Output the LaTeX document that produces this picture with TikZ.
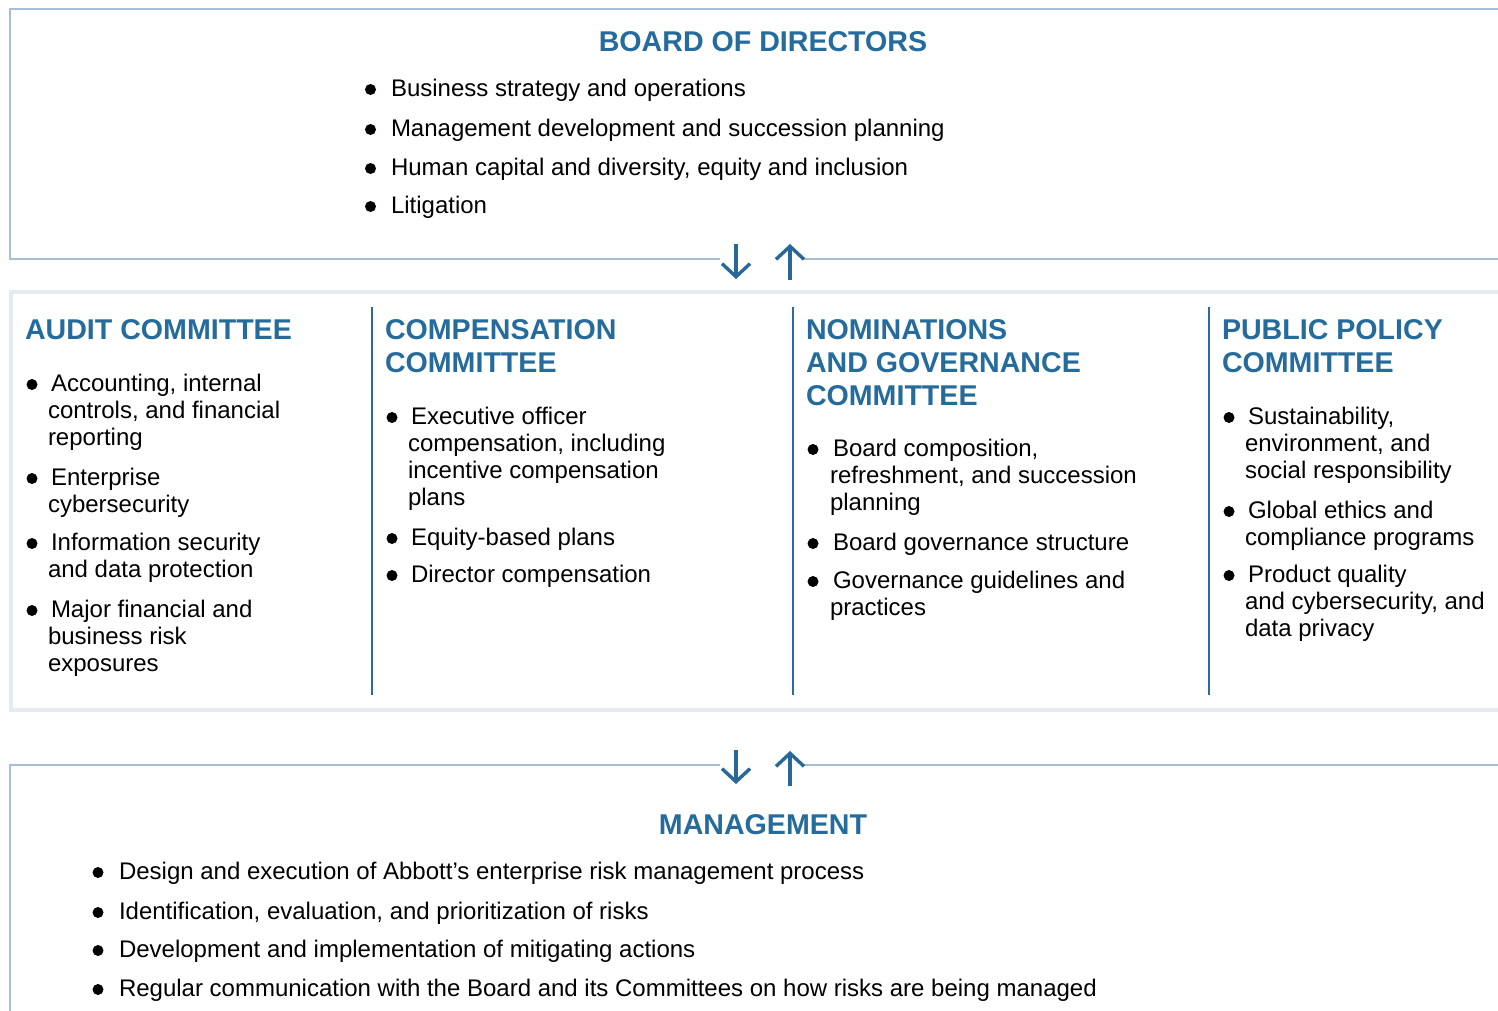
\documentclass[tikz,border=0pt]{standalone}
\usepackage{fontspec}
\setmainfont{Liberation Sans}
\usetikzlibrary{arrows.meta}
\definecolor{hd}{HTML}{256B9B}
\definecolor{sepc}{HTML}{2B6C9C}
\definecolor{fr}{HTML}{A8BDD6}
\definecolor{gb}{HTML}{E6EBF2}
\definecolor{arc}{HTML}{28679A}
\newcommand\bodyfont{\fontsize{24}{27}\selectfont}
\newcommand\headfont{\fontsize{28.6}{33}\selectfont\bfseries}
% item: name, bullet x, text x, baseline y, text
\newcommand\itm[5]{%
  \fill[black] (#2,{#4-6.5}) circle (5.5pt);
  \node[bodytxt] (#1) at (#3,#4) {\parbox[t]{1200pt}{\raggedright #5}};
}
\newcommand\hd[4]{%
  \node[headtxt] (#1) at (#2,#3) {\parbox[t]{600pt}{\raggedright #4}};
}
\begin{document}
\begin{tikzpicture}[x=1pt,y=-1pt,
  frame/.style={draw=fr, line width=2pt},
  graybox/.style={draw=gb, line width=4pt},
  sepline/.style={draw=sepc, line width=2.5pt},
  bodytxt/.style={anchor=base west, inner sep=0pt, outer sep=0pt, font=\bodyfont, text=black},
  headtxt/.style={anchor=base west, inner sep=0pt, outer sep=0pt, font=\headfont, text=hd},
  flow/.style={draw=arc, line width=3.4pt, -{Straight Barb[length=13pt,width=28pt,line width=3.4pt]}}]
\useasboundingbox (0,0) rectangle (1498,1010);
\fill[white] (0,0) rectangle (1498,1010);

% ---------- frames ----------
\draw[frame] (720,259) -- (10,259) -- (10,9) -- (1498,9);
\draw[frame] (803,259) -- (1498,259);
\draw[graybox] (1500,292) -- (11,292) -- (11,710) -- (1500,710);
\draw[sepline] (372,307) -- (372,695);
\draw[sepline] (793,307) -- (793,695);
\draw[sepline] (1209,307) -- (1209,695);
\draw[frame] (720,765) -- (10,765) -- (10,1012);
\draw[frame] (803,765) -- (1498,765);

% ---------- arrows ----------
\coordinate (d1s) at (736,244); \coordinate (d1e) at (736,279);
\coordinate (u1s) at (790,280); \coordinate (u1e) at (790,244);
\coordinate (d2s) at (736,750); \coordinate (d2e) at (736,784);
\coordinate (u2s) at (790,786); \coordinate (u2e) at (790,751);
\draw[flow] (d1s) -- (d1e);
\draw[flow] (u1s) -- (u1e);
\draw[flow] (d2s) -- (d2e);
\draw[flow] (u2s) -- (u2e);

% ---------- board ----------
\node[headtxt, anchor=base] (board) at (763,51) {BOARD OF DIRECTORS};
\itm{b1}{370.5}{391}{96}{Business strategy and operations}
\itm{b2}{370.5}{391}{136}{Management development and succession planning}
\itm{b3}{370.5}{391}{175}{Human capital and diversity, equity and inclusion}
\itm{b4}{370.5}{391}{213}{Litigation}

% ---------- audit ----------
\hd{audit}{25}{339}{AUDIT COMMITTEE}
\itm{a1}{32}{48}{391}{\hspace*{3pt}Accounting, internal\\controls, and financial\\reporting}
\itm{a2}{32}{48}{485}{\hspace*{3pt}Enterprise\\cybersecurity}
\itm{a3}{32}{48}{550}{\hspace*{3pt}Information security\\and data protection}
\itm{a4}{32}{48}{617}{\hspace*{3pt}Major financial and\\business risk\\exposures}

% ---------- compensation ----------
\hd{comp}{385}{339}{COMPENSATION\\COMMITTEE}
\itm{c1}{392}{408}{424}{\hspace*{3pt}Executive officer\\compensation, including\\incentive compensation\\plans}
\itm{c2}{392}{408}{545}{\hspace*{3pt}Equity-based plans}
\itm{c3}{392}{408}{582}{\hspace*{3pt}Director compensation}

% ---------- nominations ----------
\hd{nom}{806}{339}{NOMINATIONS\\AND GOVERNANCE\\COMMITTEE}
\itm{n1}{813}{830}{456}{\hspace*{3pt}Board composition,\\refreshment, and succession\\planning}
\itm{n2}{813}{830}{550}{\hspace*{3pt}Board governance structure}
\itm{n3}{813}{830}{588}{\hspace*{3pt}Governance guidelines and\\practices}

% ---------- public policy ----------
\hd{pub}{1222}{339}{PUBLIC POLICY\\COMMITTEE}
\itm{p1}{1229}{1245}{424}{\hspace*{3pt}Sustainability,\\environment, and\\social responsibility}
\itm{p2}{1229}{1245}{518}{\hspace*{3pt}Global ethics and\\compliance programs}
\itm{p3}{1229}{1245}{582}{\hspace*{3pt}Product quality\\and cybersecurity, and\\data privacy}

% ---------- management ----------
\node[headtxt, anchor=base] (mgmt) at (763,834) {MANAGEMENT};
\itm{m1}{98}{119}{879}{Design and execution of Abbott’s enterprise risk management process}
\itm{m2}{98}{119}{919}{Identification, evaluation, and prioritization of risks}
\itm{m3}{98}{119}{957}{Development and implementation of mitigating actions}
\itm{m4}{98}{119}{996}{Regular communication with the Board and its Committees on how risks are being managed}
\end{tikzpicture}
\end{document}
